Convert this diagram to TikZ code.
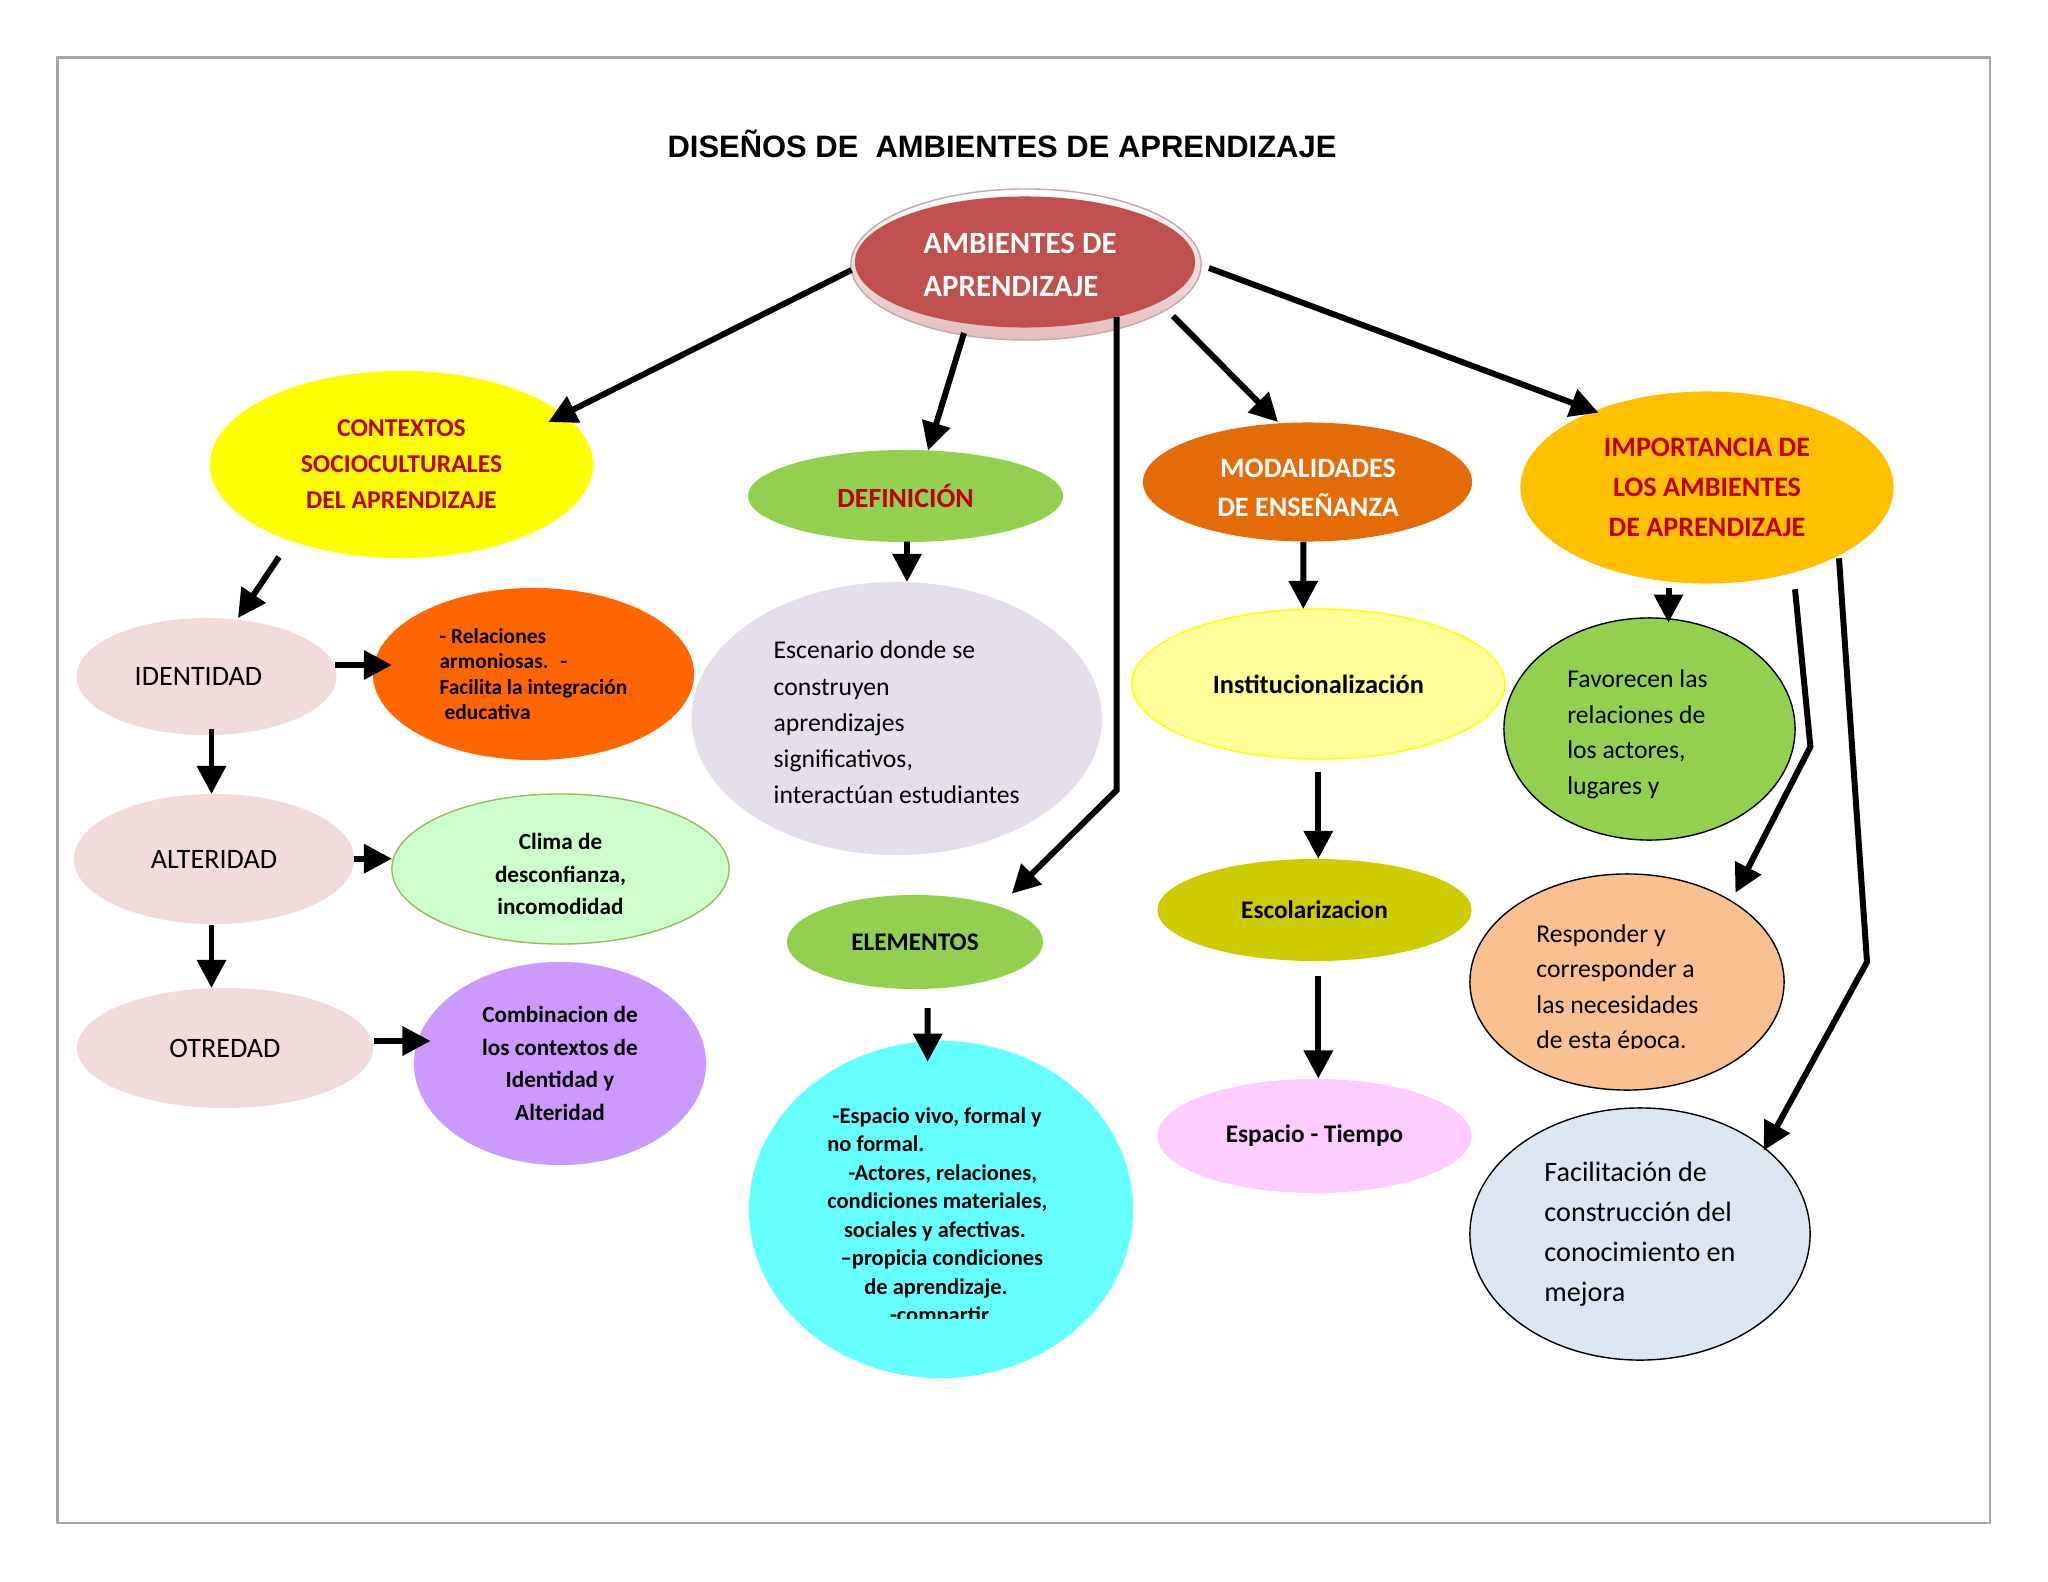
\documentclass[tikz,border=0pt]{standalone}
\usepackage{fontspec}
\setmainfont{Carlito}
\newfontfamily\titlefont{Liberation Sans}
\usetikzlibrary{shapes.geometric,arrows.meta,calc}
\definecolor{cred}{HTML}{C0504D}
\definecolor{ringpk}{HTML}{E3BDBD}
\definecolor{ringed}{HTML}{C4A8A8}
\definecolor{cyel}{HTML}{FFFF00}
\definecolor{dred}{HTML}{C00000}
\definecolor{cgreen}{HTML}{92D050}
\definecolor{corange}{HTML}{E36C09}
\definecolor{cgold}{HTML}{FFC000}
\definecolor{cpink}{HTML}{F2DCDB}
\definecolor{corangeb}{HTML}{FF6600}
\definecolor{clgreen}{HTML}{CCFFCC}
\definecolor{cgborder}{HTML}{9BBB59}
\definecolor{cviolet}{HTML}{CC99FF}
\definecolor{clav}{HTML}{E5DFEC}
\definecolor{ccyan}{HTML}{66FFFF}
\definecolor{clyel}{HTML}{FFFF99}
\definecolor{colive}{HTML}{CCCC00}
\definecolor{cpinkb}{HTML}{FFCCFF}
\definecolor{cpeach}{HTML}{FAC090}
\definecolor{cblue}{HTML}{DCE6F2}
\definecolor{cframe}{HTML}{A6A6A6}
\newcommand\fsz[2]{\fontsize{#1}{#2}\selectfont}
\begin{document}
\begin{tikzpicture}[x=0.01cm,y=-0.01cm,
  el/.style={ellipse, inner sep=0pt, outer sep=0pt},
  arr/.style={line width=1.7pt, line join=miter, -{Triangle[width=8pt,length=8pt]}},
  txt/.style={inner sep=0pt, outer sep=0pt}]
\useasboundingbox (0,0) rectangle (2048,1582);
\fill[white] (0,0) rectangle (2048,1582);
\draw[cframe, line width=0.7pt] (57.5,57.5) rectangle (1990,1523);

\node[txt, font=\titlefont\bfseries\fsz{8.8}{10}] (title) at (1002,144) {DISEÑOS DE\ \ AMBIENTES DE APRENDIZAJE};

% central
\node[el, minimum width=35mm, minimum height=15.1mm, top color=white, bottom color=ringpk, draw=ringed, line width=0.4pt] (cring) at (1026,264.5) {};
\node[el, fill=cred, minimum width=34mm, minimum height=13.1mm, text=white, align=left, font=\fsz{8.8}{12.2}\bfseries] (central) at (1025,262) {\rule{0pt}{7.6pt}AMBIENTES DE\makebox[1mm]{}\\APRENDIZAJE};

% first level
\node[el, fill=cyel, minimum width=38.3mm, minimum height=18.7mm, text=dred, align=center, font=\fsz{7.3}{10.2}\bfseries] (ctx) at (401.5,464.5) {CONTEXTOS\\SOCIOCULTURALES\\DEL APRENDIZAJE};
\node[el, fill=cgreen, minimum width=31.5mm, minimum height=9.2mm, text=dred, font=\fsz{7.9}{10}\bfseries] (def) at (905.5,496) {DEFINICIÓN};
\node[el, fill=corange, minimum width=32.9mm, minimum height=11.9mm] (mod) at (1307.5,482) {};
\begin{scope}
  \clip (1140,420) rectangle (1480,517);
  \node[txt, text=white, align=center, font=\fsz{8}{11.1}\bfseries] (modT) at (1308,487.5) {MODALIDADES\\DE ENSEÑANZA};
\end{scope}
\node[el, fill=cgold, minimum width=37.3mm, minimum height=19.2mm, text=dred, align=center, font=\fsz{8}{11.4}\bfseries] (imp) at (1707,487.5) {IMPORTANCIA DE\\LOS AMBIENTES\\DE APRENDIZAJE};

% left column
\node[el, fill=cpink, minimum width=26mm, minimum height=11.7mm, font=\fsz{8}{10}] (ide) at (206.5,676.5) {IDENTIDAD\makebox[1.6mm]{}};
\node[el, fill=corangeb, minimum width=32.1mm, minimum height=17.2mm, align=left, font=\fsz{6.1}{7.2}\bfseries] (rel) at (533.5,674) {- Relaciones\\armoniosas.\hspace{1.2mm}-\\Facilita la integración\\\hspace*{0.5mm}educativa};
\node[el, fill=cpink, minimum width=28mm, minimum height=13mm, font=\fsz{8}{10}] (alt) at (214,859) {ALTERIDAD};
\node[el, fill=clgreen, draw=cgborder, line width=0.4pt, minimum width=33.7mm, minimum height=15mm, align=center, font=\fsz{6.6}{9.25}\bfseries] (cli) at (560.5,869) {\rule{0pt}{7.6pt}Clima de\\desconfianza,\\incomodidad};
\node[el, fill=cpink, minimum width=29.6mm, minimum height=12mm, font=\fsz{8}{10}] (otr) at (225,1048) {OTREDAD};
\node[el, fill=cviolet, minimum width=29.2mm, minimum height=20.3mm, align=center, font=\fsz{6.6}{9.3}\bfseries] (com) at (560,1063.5) {Combinacion de\\los contextos de\\Identidad y\\Alteridad};

% middle column
\node[el, fill=clav, minimum width=41mm, minimum height=27.3mm, align=left, font=\fsz{7.3}{10.3}] (esc) at (896.7,718.5) {\rule{0pt}{7.3pt}Escenario donde se\\construyen\\aprendizajes\\significativos,\\interactúan estudiantes};
\node[el, fill=cgreen, minimum width=25.6mm, minimum height=9.4mm, font=\fsz{7.2}{9}\bfseries] (ele) at (915,942) {ELEMENTOS};
\node[el, fill=ccyan, minimum width=38.4mm, minimum height=33.7mm] (cya) at (941,1209.5) {};
\begin{scope}
  \clip (740,1040) rectangle (1140,1318);
  \node[txt, anchor=west, align=left, font=\fsz{6.4}{8.1}\bfseries] (cyaT) at (827.3,1217) {\hspace*{0.54mm}-Espacio vivo, formal y\\no formal.\\\hspace*{2.1mm}-Actores, relaciones,\\condiciones materiales,\\\hspace*{1.67mm}sociales y afectivas.\\\hspace*{1.34mm}–propicia condiciones\\\hspace*{3.7mm}de aprendizaje.\\\hspace*{6.27mm}-compartir};
\end{scope}

% modalidades column
\node[el, fill=clyel, draw=cyel, line width=0.4pt, minimum width=37.3mm, minimum height=15mm, font=\fsz{7.5}{9}\bfseries] (ins) at (1318.3,684) {Institucionalización};
\node[el, fill=colive, minimum width=31.4mm, minimum height=10.2mm, font=\fsz{7.2}{9}\bfseries] (eco) at (1314.5,910) {Escolarizacion};
\node[el, fill=cpinkb, minimum width=31.4mm, minimum height=11.4mm, font=\fsz{7.2}{9}\bfseries] (spt) at (1314.5,1136) {Espacio - Tiempo};

% right column
\node[el, fill=cgreen, draw=black, line width=0.4pt, minimum width=29.1mm, minimum height=22.2mm, align=left, font=\fsz{7.3}{10.2}] (fav) at (1649.5,729) {\rule{0pt}{8.1pt}Favorecen las\makebox[2.4mm]{}\\relaciones de\\los actores,\\lugares y};
\node[el, fill=cpeach, draw=black, line width=0.4pt, minimum width=31.4mm, minimum height=21.6mm] (res) at (1627,982) {};
\begin{scope}
  \clip (1460,860) rectangle (1800,1048);
  \node[txt, anchor=west, align=left, font=\fsz{7.3}{10.1}] (resT) at (1536.4,988.5) {Responder y\\corresponder a\\las necesidades\\de esta época.};
\end{scope}
\node[el, fill=cblue, draw=black, line width=0.4pt, minimum width=34mm, minimum height=25.2mm, align=left, font=\fsz{8}{11.4}] (fac) at (1640,1234) {Facilitación de\\construcción del\\conocimiento en\\mejora\makebox[0.8mm]{}};

% connectors
\draw[arr] ($(cring.center)+(-174.5,5.5)$) -- ($(ctx.center)+(147,-42.5)$);
\draw[arr] ($(cring.center)+(-62,68.5)$) -- ($(def.center)+(22.5,-45.5)$);
\draw[arr] ($(central.center)+(91.6,55.2)$) -- ++(0,473) -- ($(ele.center)+(96.7,-48.3)$);
\draw[arr] ($(cring.center)+(147,51.5)$) -- ($(mod.center)+(-29.5,-60)$);
\draw[arr] ($(cring.center)+(183,3.5)$) -- ($(imp.center)+(-108.5,-74.8)$);

\draw[arr] ($(ctx.center)+(-122.5,92.5)$) -- ($(ide.center)+(31.5,-58.5)$);
\draw[arr] ($(ide.center)+(128.5,-11.5)$) -- ($(rel.center)+(-141.5,-9)$);
\draw[arr] ($(ide.center)+(5,52)$) -- ($(alt.center)+(-2.5,-65)$);
\draw[arr] ($(alt.center)+(140,-0.3)$) -- ($(cli.center)+(-168.5,-10.3)$);
\draw[arr] ($(alt.center)+(-2.5,66)$) -- ($(otr.center)+(-13.5,-60)$);
\draw[arr] ($(otr.center)+(149,-7)$) -- ($(com.center)+(-129.4,-22.5)$);

\draw[arr] ($(def.center)+(1.5,45.6)$) -- ($(esc.center)+(10.3,-136.5)$);
\draw[arr] ($(ele.center)+(12.7,66)$) -- ($(cya.center)+(-13.3,-147.8)$);

\draw[arr] ($(mod.center)+(-4.2,59.8)$) -- ($(ins.center)+(-15,-75)$);
\draw[arr] ($(ins.center)+(0,88.4)$) -- ($(eco.center)+(3.8,-51)$);
\draw[arr] ($(eco.center)+(3.8,65.5)$) -- ($(spt.center)+(3.8,-57.4)$);

\draw[arr] ($(imp.center)+(-38.5,100.5)$) -- ($(fav.center)+(19,-106.3)$);
\draw[arr] ($(imp.center)+(88,101.8)$) -- ++(15.4,157.4) -- ($(res.center)+(108.4,-89.2)$);
\draw[arr] ($(imp.center)+(132,70.8)$) -- ++(28,403.7) -- ($(fac.center)+(123.7,-83.4)$);
\end{tikzpicture}
\end{document}
